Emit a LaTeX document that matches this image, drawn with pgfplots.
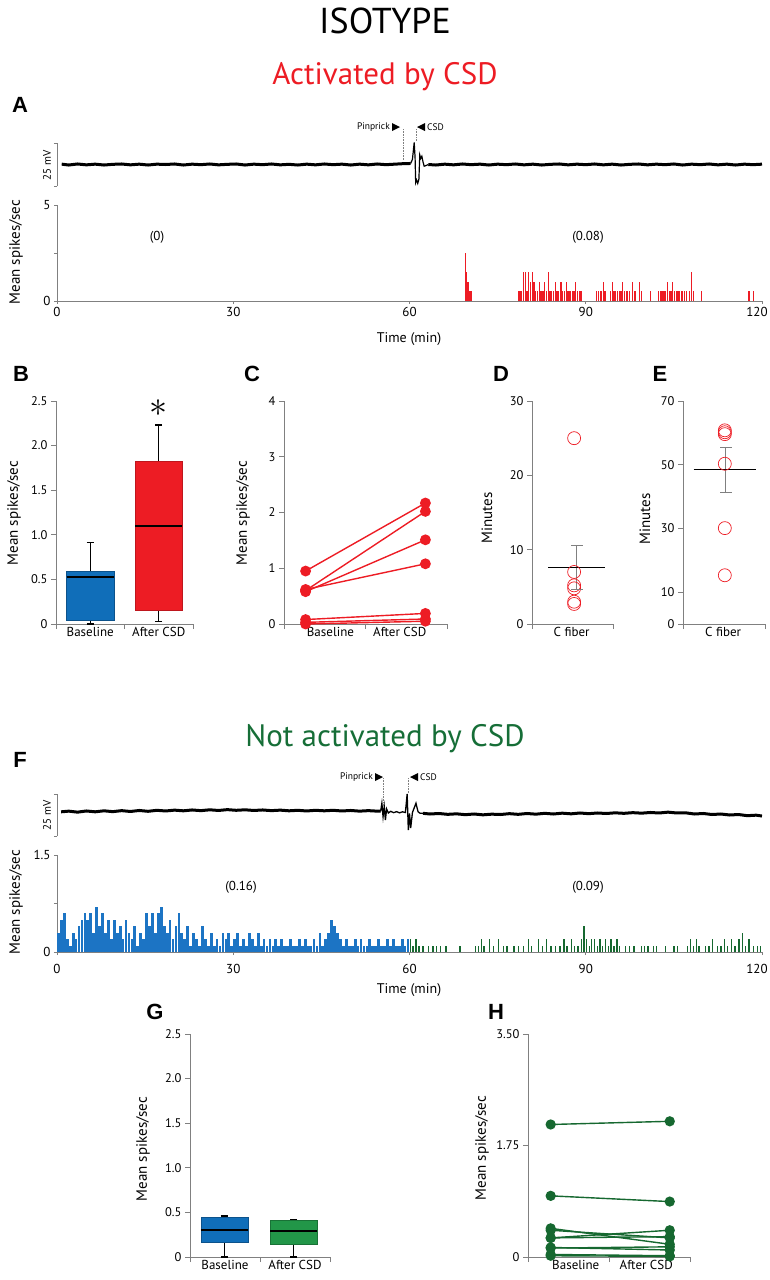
\documentclass[border=0pt]{standalone}
\usepackage{fontspec}
\setmainfont{PT Sans}
\newfontfamily\hel{Liberation Sans}
\usepackage{pgfplots}
\pgfplotsset{compat=1.18}
\usepgfplotslibrary{statistics}

\definecolor{cred}{RGB}{237,28,36}
\definecolor{cblue}{RGB}{16,110,185}
\definecolor{cblueh}{RGB}{28,116,196}
\definecolor{cgreent}{RGB}{22,110,55}
\definecolor{cgreenh}{RGB}{22,104,48}
\definecolor{cgreenb}{RGB}{34,150,72}
\definecolor{axgrey}{RGB}{128,128,128}

\pgfplotsset{
  panel/.style={scale only axis, anchor=south west, axis lines=left,
    axis line style={-, draw=axgrey, line width=0.7pt},
    tick style={draw=axgrey, line width=0.7pt}, tick align=outside,
    major tick length=5pt, tick label style={font=\fontsize{12.5}{13}\selectfont},
    extra x tick style={major tick length=0pt,
      tick label style={font=\fontsize{13}{14}\selectfont}},
    clip=false},
  trace/.style={scale only axis, anchor=south west, width=705pt, xmin=0, xmax=120,
    ymin=-12.5, ymax=12.5, axis x line=none, axis y line=left,
    axis line style={-, draw=axgrey, line width=0.6pt}, ytick={-12.5,12.5},
    yticklabels={}, tick style={draw=axgrey, line width=0.6pt},
    tick align=outside, major tick length=3pt, clip=false},
  boxplot/draw direction=y,
  boxplot/every box/.style={line width=0.5pt},
  boxplot/every whisker/.style={black, line width=1.2pt},
  boxplot/every median/.style={black, line width=1.8pt},
  redpair/.style={cred, line width=1.4pt, mark=*, mark size=4.7pt},
  greenpair/.style={cgreenh, line width=1.4pt, mark=*, mark size=4.4pt},
}
\newcommand{\lab}{\fontsize{15}{16}\selectfont}
\newcommand{\pl}{\hel\bfseries\fontsize{22}{22}\selectfont}

\begin{document}
\begin{tikzpicture}
\useasboundingbox (0,0) rectangle (770pt,-1280pt);

% titles
\node[anchor=base, font=\fontsize{36}{36}\selectfont] at (385pt,-33pt) {ISOTYPE};
\node[anchor=base, font=\fontsize{31}{31}\selectfont, text=cred] at (385pt,-84pt) {Activated by CSD};
\node[anchor=base, font=\fontsize{31}{31}\selectfont, text=cgreent] at (385pt,-746pt) {Not activated by CSD};

% panel letters
\node[font=\pl] at (20pt,-105pt) {A};
\node[font=\pl] at (21pt,-374pt) {B};
\node[font=\pl] at (252pt,-374pt) {C};
\node[font=\pl] at (501pt,-374pt) {D};
\node[font=\pl] at (660pt,-374pt) {E};
\node[font=\pl] at (20pt,-760pt) {F};
\node[font=\pl] at (155pt,-1012pt) {G};
\node[font=\pl] at (496pt,-1012pt) {H};

% ---------- A trace
\begin{axis}[trace, height=43pt, at={(57pt,-186pt)}]
\addplot[black, line width=3pt] coordinates {
(0.8,0.2) (2,-0.3) (3.5,0.3) (5,-0.2) (6.5,0.2) (8,-0.3) (9.5,0.1) (11,0.3) (12.5,-0.2)
(14,0.2) (15.5,-0.3) (17,0.2) (18.5,0.0) (20,0.3) (21.5,-0.3) (23,0.2) (24.5,-0.1)
(26,0.3) (27.5,-0.2) (29,0.1) (30.5,0.3) (32,-0.3) (33.5,0.2) (35,-0.1) (36.5,0.3)
(38,-0.2) (39.5,0.1) (41,-0.3) (42.5,0.2) (44,-0.2) (45.5,0.3) (47,-0.1) (48.5,0.2)
(50,-0.3) (51.5,0.2) (53,-0.2) (54.5,0.3) (56,-0.1) (57.5,0.2) (59,0.5) (60.2,0.6)};
\addplot[black, line width=1.2pt] coordinates {
(60.2,0.6) (60.5,3) (60.8,12.8) (60.95,4) (61.05,-10.5) (61.2,-9) (61.4,-11) (61.6,-8.5)
(61.75,5.5) (61.9,3.5) (62.1,4.8) (62.3,1.5) (62.5,-1) (62.8,-0.6) (63.2,0)};
\addplot[black, line width=3pt] coordinates {
(63.2,0) (64.5,-0.3) (66,0.2) (67.5,-0.2) (69,0.3) (70.5,-0.1) (72,0.2) (73.5,-0.3)
(75,0.2) (76.5,-0.1) (78,0.3) (79.5,-0.2) (81,0.2) (82.5,-0.3) (84,0.1) (85.5,0.3)
(87,-0.2) (88.5,0.2) (90,-0.1) (91.5,0.3) (93,-0.2) (94.5,0.2) (96,-0.3) (97.5,0.1)
(99,0.3) (100.5,-0.2) (102,0.2) (103.5,-0.1) (105,0.3) (106.5,-0.3) (108,0.2)
(109.5,-0.1) (111,0.3) (112.5,-0.2) (114,0.2) (115.5,-0.3) (117,0.2) (118.5,-0.1) (120,0.2)};
\end{axis}
\node[rotate=90, font=\fontsize{11}{12}\selectfont] at (47pt,-165pt) {25 mV};
\draw[densely dotted, gray, line width=0.6pt] (403.5pt,-129pt) -- (403.5pt,-160pt);
\draw[densely dotted, gray, line width=0.6pt] (416pt,-129pt) -- (416pt,-141pt);
\node[anchor=east, font=\fontsize{9.5}{10}\selectfont, inner sep=0pt] at (390pt,-127pt) {Pinprick};
\fill (392pt,-123pt) -- (400pt,-127pt) -- (392pt,-131pt) -- cycle;
\fill (425pt,-123pt) -- (417pt,-127pt) -- (425pt,-131pt) -- cycle;
\node[anchor=west, font=\fontsize{9.5}{10}\selectfont, inner sep=0pt] at (427pt,-127pt) {CSD};

% ---------- A histogram
\begin{axis}[panel, width=705pt, height=96pt, at={(57pt,-301pt)},
  xmin=0, xmax=120, ymin=0, ymax=5, xtick={0,30,60,90,120},
  xticklabels={0,30,60,90,\hspace*{-10pt}120},
  ytick={0,2.5,5}, yticklabels={0,,5}, major tick length=3pt,
  tick label style={font=\fontsize{13}{14}\selectfont}]
\addplot[ycomb, cred, line width=1.3pt] coordinates {
(69.5,2.5) (69.7,1.5) (69.9,1.0) (70.1,1.0) (70.3,0.5) (70.5,0.5)
(78.5,0.5) (78.8,0.5) (79.1,0.5) (79.4,1.5) (79.7,1.5) (80.0,0.5) (80.3,1.5) (80.6,1.0)
(80.9,1.5) (81.2,1.0) (81.5,0.5) (81.8,0.5) (82.1,1.0) (82.4,0.5) (82.7,0.5) (83.0,1.0)
(83.3,0.5) (83.6,1.5) (83.9,0.5) (84.2,0.5) (84.5,0.5) (84.8,1.0) (85.1,0.5) (85.4,0.5)
(85.8,1.0) (86.1,0.5) (86.4,0.5) (86.7,1.0) (87.0,0.5) (87.3,0.5) (87.7,0.5) (88.0,0.5)
(88.3,1.0) (88.6,0.5) (89.0,0.5) (89.3,0.5)
(91.8,0.5) (92.2,0.5) (92.6,0.5) (93.0,1.0) (93.3,0.5) (94.2,0.5) (94.5,1.0) (94.8,0.5)
(95.1,0.5) (95.4,0.5) (95.7,0.5) (96.0,0.5) (96.3,1.0) (96.6,0.5) (97.0,0.5) (97.5,0.5)
(98.0,1.0) (98.4,0.5) (99.2,1.0) (99.5,0.5) (101.0,0.5) (102.4,0.5) (102.7,0.5)
(103.0,0.5) (103.3,0.5) (103.6,0.5) (103.9,1.0) (104.2,0.5) (104.5,0.5) (104.8,1.0)
(105.1,0.5) (105.4,0.5) (105.7,0.5) (106.0,0.5) (106.4,0.5) (106.8,0.5) (107.2,0.5)
(107.6,0.5) (108.0,1.5) (108.3,0.5) (109.7,0.5) (117.8,0.5) (118.6,0.5)};
\end{axis}
\node[font=\fontsize{13}{14}\selectfont] at (157pt,-237pt) {(0)};
\node[font=\fontsize{13}{14}\selectfont] at (588pt,-237pt) {(0.08)};
\node[rotate=90, font=\lab] at (16pt,-252pt) {Mean spikes/sec};
\node[font=\fontsize{14}{15}\selectfont] at (409pt,-339pt) {Time (min)};

% ---------- B
\begin{axis}[panel, width=137pt, height=223pt, at={(56pt,-624pt)},
  xmin=0, xmax=2, ymin=0, ymax=2.5, ytick={0,0.5,1,1.5,2,2.5},
  yticklabels={0,0.5,1.0,1.5,2.0,2.5}, xtick={0,1,2}, xticklabels={},
  extra x ticks={0.5,1.5}, extra x tick labels={Baseline,After CSD}]
\addplot[boxplot prepared={draw position=0.5, lower whisker=0, lower quartile=0.04,
  median=0.53, upper quartile=0.59, upper whisker=0.91, box extend=0.69, whisker extend=0.1},
  fill=cblue, draw=cblue!75!black] coordinates {};
\addplot[boxplot prepared={draw position=1.5, lower whisker=0.03, lower quartile=0.15,
  median=1.10, upper quartile=1.82, upper whisker=2.23, box extend=0.69, whisker extend=0.1},
  fill=cred, draw=cred!80!black] coordinates {};
\end{axis}
\node at (158pt,-408pt) {\scalebox{3.6}{$\ast$}};
\node[rotate=90, font=\lab] at (14pt,-513pt) {Mean spikes/sec};

% ---------- C
\begin{axis}[panel, width=163pt, height=223pt, at={(284pt,-624pt)},
  xmin=0, xmax=2, ymin=0, ymax=4, ytick={0,1,2,3,4}, yticklabels={0,1,2,3,4},
  xtick={0,1,2}, xticklabels={}, extra x ticks={0.57,1.42},
  extra x tick labels={Baseline,After CSD}]
\addplot[redpair] coordinates {(0.265,0.95) (1.735,2.17)};
\addplot[redpair] coordinates {(0.265,0.60) (1.735,2.02)};
\addplot[redpair] coordinates {(0.265,0.58) (1.735,1.51)};
\addplot[redpair] coordinates {(0.265,0.62) (1.735,1.08)};
\addplot[redpair] coordinates {(0.265,0.08) (1.735,0.19)};
\addplot[redpair] coordinates {(0.265,0.03) (1.735,0.09)};
\addplot[redpair] coordinates {(0.265,0.00) (1.735,0.05)};
\end{axis}
\node[rotate=90, font=\lab] at (243pt,-513pt) {Mean spikes/sec};

% ---------- D
\begin{axis}[panel, width=81pt, height=223pt, at={(532pt,-624pt)},
  xmin=0, xmax=1, ymin=0, ymax=30, ytick={0,10,20,30}, yticklabels={0,10,20,30},
  xtick={0,1}, xticklabels={}, extra x ticks={0.49}, extra x tick labels={C fiber}]
\addplot[only marks, mark=o, mark size=6.5pt, cred, line width=0.7pt] coordinates {
(0.52,25) (0.52,7) (0.52,5.2) (0.52,4.8) (0.52,3) (0.52,2.7)};
\addplot[axgrey, line width=0.8pt, mark=-, mark size=6pt] coordinates {(0.55,4.6) (0.55,10.6)};
\addplot[black, line width=1.8pt] coordinates {(0.2,7.6) (0.9,7.6)};
\end{axis}
\node[rotate=90, font=\lab] at (487pt,-518pt) {Minutes};

% ---------- E
\begin{axis}[panel, width=82pt, height=223pt, at={(683pt,-624pt)},
  xmin=0, xmax=1, ymin=0, ymax=70, ytick={0,10,30,50,70}, yticklabels={0,10,30,50,70},
  xtick={0,1}, xticklabels={}, extra x ticks={0.49}, extra x tick labels={C fiber}]
\addplot[only marks, mark=o, mark size=6.5pt, cred, line width=0.7pt] coordinates {
(0.51,60.8) (0.51,60.2) (0.51,59.6) (0.51,50.3) (0.51,30.1) (0.51,15.3)};
\addplot[axgrey, line width=0.8pt, mark=-, mark size=6pt] coordinates {(0.52,41.3) (0.52,55.5)};
\addplot[black, line width=1.8pt] coordinates {(0.13,48.5) (0.89,48.5)};
\end{axis}
\node[rotate=90, font=\lab] at (645pt,-519pt) {Minutes};

% ---------- F trace
\begin{axis}[trace, height=42pt, at={(57pt,-836pt)}]
\addplot[black, line width=3pt] coordinates {
(0.7,1.9) (2,2.3) (3.5,1.7) (5,2.4) (6.5,1.9) (8,2.5) (9.5,2.0) (11,2.6) (12.5,2.1)
(14,2.7) (15.5,2.2) (17,2.8) (18.5,2.4) (20,2.9) (21.5,2.5) (23,3.0) (24.5,2.6) (26,3.1)
(27.5,2.7) (29,3.2) (30.5,2.8) (32,3.1) (33.5,2.7) (35,3.0) (36.5,2.6) (38,2.9)
(39.5,2.5) (41,2.8) (42.5,2.4) (44,2.8) (45.5,2.5) (47,2.8) (48.5,2.4) (50,2.7)
(51.5,2.3) (53,2.6) (54.5,2.3) (55.1,2.4)};
\addplot[black, line width=1.3pt] coordinates {
(55.1,2.4) (55.3,7) (55.5,-1) (55.7,5) (55.9,-3) (56.1,3.6) (56.4,1.2) (56.8,2.2)
(57.3,1.4) (57.8,2.0) (58.3,1.3) (58.8,1.9) (59.3,1.5) (59.6,12.5) (59.8,-9) (60.0,1)
(60.2,-7.8) (60.5,1.5) (61.1,7) (61.45,2) (61.8,1) (62.3,1.0)};
\addplot[black, line width=3pt] coordinates {
(62.3,1.0) (63.5,0.6) (65,0.9) (66.5,0.4) (68,0.7) (69.5,0.2) (71,0.6) (72.5,0.1)
(74,0.5) (75.5,0.3) (77,0.8) (78.5,0.4) (80,0.9) (81.5,0.5) (83,1.0) (84.5,0.6)
(86,1.1) (87.5,0.7) (89,1.2) (90.5,0.8) (92,1.2) (93.5,0.9) (95,1.3) (96.5,1.0)
(98,1.4) (99.5,1.1) (101,1.5) (102.5,1.2) (104,1.7) (105.5,1.2) (107,1.3) (108.5,0.6)
(110,0.9) (111.5,0.3) (113,0.6) (114.5,0.0) (116,0.3) (117.5,-0.4) (119,-0.1) (120,-0.6)};
\end{axis}
\node[rotate=90, font=\fontsize{11}{12}\selectfont] at (47pt,-815pt) {25 mV};
\draw[densely dotted, gray, line width=0.6pt] (383pt,-778pt) -- (383pt,-807pt);
\draw[densely dotted, gray, line width=0.6pt] (408.5pt,-778pt) -- (408.5pt,-793pt);
\node[anchor=east, font=\fontsize{9.5}{10}\selectfont, inner sep=0pt] at (373pt,-777pt) {Pinprick};
\fill (375pt,-773pt) -- (383pt,-777pt) -- (375pt,-781pt) -- cycle;
\fill (418pt,-773pt) -- (410pt,-777pt) -- (418pt,-781pt) -- cycle;
\node[anchor=west, font=\fontsize{9.5}{10}\selectfont, inner sep=0pt] at (420pt,-777pt) {CSD};

% ---------- F histogram
\begin{axis}[panel, width=705pt, height=97pt, at={(57pt,-952pt)},
  xmin=0, xmax=120, ymin=0, ymax=1.5, xtick={0,30,60,90,120},
  xticklabels={0,30,60,90,\hspace*{-10pt}120},
  ytick={0,0.75,1.5}, yticklabels={0,,1.5}, major tick length=3pt,
  tick label style={font=\fontsize{13}{14}\selectfont},
  xticklabel style={yshift=-6pt}]
\addplot[ycomb, cblueh, line width=2.8pt] coordinates {
(0.25,0.3) (0.75,0.5) (1.25,0.6) (1.75,0.2) (2.25,0.1) (2.75,0.3) (3.25,0.2) (3.75,0.4)
(4.25,0.5) (4.75,0.6) (5.25,0.5) (5.75,0.6) (6.25,0.3) (6.75,0.7) (7.25,0.4) (7.75,0.6)
(8.25,0.3) (8.75,0.5) (9.25,0.2) (9.75,0.5) (10.25,0.3) (10.75,0.4) (11.25,0.2) (11.75,0.5)
(12.25,0.3) (12.75,0.2) (13.25,0.4) (13.75,0.1) (14.25,0.3) (14.75,0.2) (15.25,0.6) (15.75,0.4)
(16.25,0.6) (16.75,0.3) (17.25,0.6) (17.75,0.7) (18.25,0.4) (18.75,0.3) (19.25,0.5) (19.75,0.2)
(20.25,0.4) (20.75,0.6) (21.25,0.3) (21.75,0.2) (22.25,0.4) (22.75,0.1) (23.25,0.3) (23.75,0.2)
(24.25,0.1) (24.75,0.4) (25.25,0.2) (25.75,0.1) (26.25,0.3) (26.75,0.1) (27.25,0.2) (27.75,0.1)
(28.25,0.3) (28.75,0.2) (29.25,0.3) (29.75,0.1) (30.25,0.2) (30.75,0.3) (31.25,0.1) (31.75,0.2)
(32.25,0.1) (32.75,0.3) (33.25,0.2) (33.75,0.1) (34.25,0.3) (34.75,0.1) (35.25,0.2) (35.75,0.1)
(36.25,0.2) (36.75,0.1) (37.25,0.2) (37.75,0.1) (38.25,0.2) (38.75,0.1) (39.25,0.1) (39.75,0.2)
(40.25,0.1) (40.75,0.1) (41.25,0.2) (41.75,0.1) (42.25,0.2) (42.75,0.1) (43.25,0.1) (43.75,0.2)
(44.25,0.1) (44.75,0.3) (45.25,0.1) (45.75,0.2) (46.25,0.3) (46.75,0.5) (47.25,0.4) (47.75,0.3)
(48.25,0.2) (48.75,0.1) (49.25,0.2) (49.75,0.1) (50.25,0.1) (50.75,0.2) (51.25,0.1) (51.75,0.2)
(52.25,0.1) (52.75,0.1) (53.25,0.2) (53.75,0.1) (54.25,0.1) (54.75,0.2) (55.25,0.1) (55.75,0.1)
(56.25,0.2) (56.75,0.1) (57.25,0.2) (57.75,0.1) (58.25,0.1) (58.75,0.2) (59.25,0.1) (59.75,0.2)};
\addplot[ycomb, cgreenh, line width=1.3pt] coordinates {
(60.2,0.2) (60.6,0.1) (61.1,0.2) (61.6,0.1) (62.3,0.1) (63.2,0.1) (64.0,0.1) (64.6,0.1)
(65.3,0.1) (66.2,0.1) (68.6,0.1) (71.2,0.1) (71.7,0.1) (72.2,0.2) (72.7,0.1) (73.6,0.2)
(74.3,0.1) (75.2,0.2) (76.0,0.1) (76.6,0.1) (77.8,0.1) (78.5,0.1) (79.4,0.1) (80.2,0.2)
(80.8,0.1) (82.0,0.2) (82.6,0.1) (83.3,0.2) (84.1,0.1) (84.8,0.1) (85.6,0.1) (86.3,0.2)
(86.8,0.1) (87.6,0.2) (88.1,0.1) (88.7,0.1) (89.3,0.2) (89.7,0.4) (90.1,0.2) (90.6,0.1)
(91.0,0.2) (91.5,0.2) (92.0,0.1) (92.4,0.2) (92.9,0.1) (93.4,0.2) (93.9,0.1) (94.3,0.2)
(94.8,0.1) (95.3,0.2) (95.8,0.1) (96.8,0.1) (97.4,0.1) (98.2,0.1) (99.5,0.1) (100.0,0.1)
(100.6,0.1) (101.5,0.1) (102.1,0.1) (103.6,0.1) (105.0,0.1) (105.6,0.1) (107.3,0.1)
(107.8,0.2) (108.3,0.1) (108.8,0.2) (109.3,0.1) (110.4,0.1) (111.0,0.1) (111.6,0.2)
(112.4,0.1) (113.0,0.1) (113.6,0.2) (114.1,0.1) (114.8,0.2) (115.4,0.1) (116.1,0.2)
(116.7,0.3) (117.2,0.1) (117.8,0.2) (118.6,0.1) (119.2,0.1) (119.7,0.1)};
\end{axis}
\node[font=\fontsize{13}{14}\selectfont] at (241pt,-887pt) {(0.16)};
\node[font=\fontsize{13}{14}\selectfont] at (588pt,-887pt) {(0.09)};
\node[rotate=90, font=\lab] at (16pt,-902pt) {Mean spikes/sec};
\node[font=\fontsize{14}{15}\selectfont] at (409pt,-990pt) {Time (min)};

% ---------- G
\begin{axis}[panel, width=140pt, height=223pt, at={(190pt,-1257pt)},
  xmin=0, xmax=2, ymin=0, ymax=2.5, ytick={0,0.5,1,1.5,2,2.5},
  yticklabels={0,0.5,1.0,1.5,2.0,2.5}, xtick={0,1,2}, xticklabels={},
  extra x ticks={0.5,1.5}, extra x tick labels={Baseline,After CSD}]
\addplot[boxplot prepared={draw position=0.49, lower whisker=0, lower quartile=0.16,
  median=0.30, upper quartile=0.45, upper whisker=0.46, box extend=0.67, whisker extend=0.1},
  fill=cblue, draw=cblue!75!black] coordinates {};
\addplot[boxplot prepared={draw position=1.48, lower whisker=0, lower quartile=0.14,
  median=0.29, upper quartile=0.41, upper whisker=0.42, box extend=0.67, whisker extend=0.1},
  fill=cgreenb, draw=cgreenb!75!black] coordinates {};
\end{axis}
\node[rotate=90, font=\lab] at (143pt,-1149pt) {Mean spikes/sec};

% ---------- H
\begin{axis}[panel, width=162pt, height=223pt, at={(528pt,-1257pt)},
  xmin=0, xmax=2, ymin=0, ymax=3.5, ytick={0,1.75,3.5}, yticklabels={0,1.75,3.50},
  xtick={0,1,2}, xticklabels={}, extra x ticks={0.59,1.46},
  extra x tick labels={Baseline,After CSD}]
\addplot[greenpair] coordinates {(0.28,2.08) (1.75,2.13)};
\addplot[greenpair] coordinates {(0.28,0.96) (1.75,0.87)};
\addplot[greenpair] coordinates {(0.28,0.45) (1.75,0.20)};
\addplot[greenpair] coordinates {(0.28,0.42) (1.75,0.30)};
\addplot[greenpair] coordinates {(0.28,0.30) (1.75,0.42)};
\addplot[greenpair] coordinates {(0.28,0.30) (1.75,0.32)};
\addplot[greenpair] coordinates {(0.28,0.15) (1.75,0.11)};
\addplot[greenpair] coordinates {(0.28,0.14) (1.75,0.16)};
\addplot[greenpair] coordinates {(0.28,0.04) (1.75,0.02)};
\addplot[greenpair] coordinates {(0.28,0.02) (1.75,0.01)};
\end{axis}
\node[rotate=90, font=\lab] at (482pt,-1148pt) {Mean spikes/sec};
\end{tikzpicture}
\end{document}
